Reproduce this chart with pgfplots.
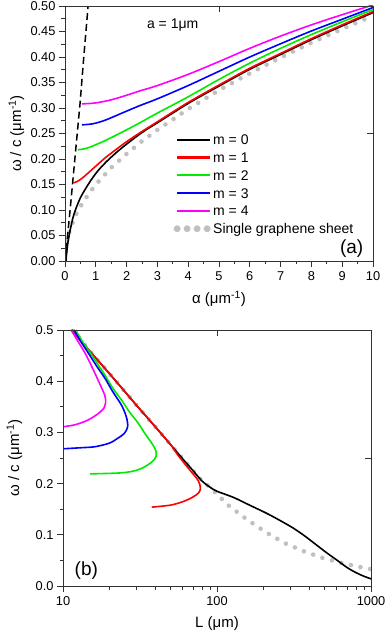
\documentclass[border=0pt]{standalone}
\usepackage{fontspec}
\setmainfont{Liberation Sans}
\newfontfamily\dejavu{DejaVu Sans}
\usepackage{pgfplots}
\pgfplotsset{compat=1.18}
\definecolor{sheetgray}{RGB}{192,192,192}
\definecolor{mgreen}{RGB}{0,235,0}
\definecolor{mblue}{RGB}{0,0,255}
\definecolor{mred}{RGB}{255,0,0}
\definecolor{mmag}{RGB}{255,0,255}
\newcommand\fs{\fontsize{12.8bp}{15bp}\selectfont}
\newcommand\fl{\fontsize{14bp}{17bp}\selectfont}
\newcommand\fx{\fontsize{15bp}{18bp}\selectfont}
\newcommand\fb{\fontsize{19bp}{22bp}\selectfont}
\newcommand\sample[1]{\textcolor{#1}{\rule[4bp]{33bp}{2.1bp}}\hspace{3bp}}
\newcommand\dt{\makebox[0pt]{\raisebox{2.4bp}{\fontsize{8.8bp}{9bp}\dejavu ●}}}
\newcommand\dotsample{\textcolor{sheetgray}{\dt\hspace{10bp}\dt\hspace{10bp}\dt\hspace{10bp}\dt}\hspace{6bp}}
\pgfplotsset{
  common/.style={
    scale only axis, anchor=south west,
    axis line style={black!80, line width=0.8bp},
    every tick/.style={black!80, line width=0.8bp},
    major tick length=6bp, minor tick length=3.5bp,
    tick align=outside,
    xtick pos=left, ytick pos=left,
    /pgf/number format/assume math mode=true,
    tick label style={font=\fs},
    label style={font=\fx},
    xticklabel style={yshift=-1.5bp},
  },
  opp/.style={
    scale only axis, anchor=south west,
    axis line style={black!80, line width=0.8bp},
    every tick/.style={black!80, line width=0.8bp},
    major tick length=6bp,
    tick align=inside,
    xtick pos=right, ytick pos=right,
    xticklabels={}, yticklabels={},
    xminorticks=false, yminorticks=false,
  },
  sheet/.style={sheetgray, line width=4.6bp, line cap=round, dash pattern=on 0bp off 9.8bp},
  crv/.style={line width=1.6bp, smooth},
}
\begin{document}
\begin{tikzpicture}
% ---------------- (a) ----------------
\begin{axis}[common,
  at={(65bp,371bp)}, width=308bp, height=255bp,
  xmin=0, xmax=10, ymin=0, ymax=0.5,
  xtick={0,1,...,10}, minor x tick num=1,
  ytick={0,0.05,...,0.51}, minor y tick num=1,
  yticklabel style={/pgf/number format/.cd, fixed, fixed zerofill, precision=2},
  xlabel={α (μm\textsuperscript{-1})},
  ylabel={ω / c (μm\textsuperscript{-1})},
  xlabel style={at={([yshift=-43bp]rel axis cs:0.5,0)}, anchor=base},
  ylabel style={at={([xshift=-44bp]rel axis cs:0,0.5)}, anchor=base},
  legend style={draw=none, fill=none, at={(axis cs:3.636,0.248)}, anchor=north west,
    inner sep=0pt, font=\fl, row sep=4.8bp,
    nodes={inner sep=0pt, text height=10bp, text depth=3bp},
    /tikz/every odd column/.append style={column sep=0bp}},
  legend cell align=left,
]
\addplot[sheet, forget plot] coordinates {(0,0) (0.03,0.028) (0.1,0.05) (0.2,0.068) (0.35,0.09) (0.5,0.107) (0.75,0.13) (1,0.15) (1.5,0.183) (2,0.21) (2.5,0.235) (3,0.257) (4,0.298) (5,0.335) (6,0.368) (7,0.399) (8,0.428) (9,0.455) (10,0.481)};
\addplot[black, line width=1.5bp, dash pattern=on 7bp off 4bp, forget plot] coordinates {(0,0) (0.15,0.09) (0.32,0.2) (0.49,0.31) (0.61,0.4) (0.75,0.5)};
\addplot[crv, black, forget plot] coordinates {(0.03,0) (0.08,0.03) (0.15,0.055) (0.25,0.083) (0.35,0.102) (0.5,0.124) (0.65,0.14) (0.85,0.159) (1.07,0.177) (1.4,0.198) (1.85,0.222) (2.5,0.252) (3,0.271) (4,0.309) (5,0.343) (6,0.376) (7,0.405) (8,0.434) (9,0.461) (10,0.487)};
\addplot[crv, mred, forget plot] coordinates {(0.27,0.153) (0.4,0.156) (0.55,0.162) (0.76,0.173) (1,0.186) (1.3,0.202) (1.6,0.216) (2,0.234) (2.5,0.254) (3,0.273) (4,0.311) (5,0.345) (6,0.378) (7,0.407) (8,0.436) (9,0.463) (10,0.489)};
\addplot[crv, mgreen, forget plot] coordinates {(0.42,0.218) (0.7,0.221) (1,0.228) (1.3,0.236) (1.8,0.251) (2.4,0.27) (3,0.29) (4,0.322) (5,0.356) (6,0.388) (7,0.417) (8,0.444) (9,0.469) (10,0.493)};
\addplot[crv, mblue, forget plot] coordinates {(0.55,0.267) (0.9,0.269) (1.3,0.276) (1.85,0.29) (2.4,0.304) (3,0.318) (4,0.344) (5,0.372) (6,0.4) (7,0.426) (8,0.451) (9,0.474) (10,0.497)};
\addplot[crv, mmag, forget plot] coordinates {(0.55,0.308) (1,0.31) (1.5,0.316) (2,0.325) (2.4,0.333) (3,0.344) (4,0.366) (5,0.391) (6,0.417) (7,0.441) (8,0.463) (9,0.483) (10,0.502)};
\addlegendimage{empty legend}
\addlegendentry{\sample{black}m = 0}
\addlegendimage{empty legend}
\addlegendentry{\sample{mred}m = 1}
\addlegendimage{empty legend}
\addlegendentry{\sample{mgreen}m = 2}
\addlegendimage{empty legend}
\addlegendentry{\sample{mblue}m = 3}
\addlegendimage{empty legend}
\addlegendentry{\sample{mmag}m = 4}
\addlegendimage{empty legend}
\addlegendentry{\dotsample Single graphene sheet}
\node[font=\fl, anchor=base west] at (axis cs:2.55,0.455) {a = 1μm};
\node[font=\fb, anchor=base east] at (axis cs:9.8,0.014) {(a)};
\end{axis}
\begin{axis}[opp, at={(65bp,371bp)}, width=308bp, height=255bp,
  xmin=0, xmax=10, ymin=0, ymax=0.5, xtick={5}, ytick={0.25}]
\end{axis}
% ---------------- (b) ----------------
\begin{axis}[common,
  at={(63bp,46bp)}, width=308bp, height=256bp,
  xmode=log, xmin=10, xmax=1000, ymin=0, ymax=0.5,
  xtick={10,100,1000}, xticklabels={10,100,1000},
  ytick={0,0.1,...,0.51}, minor y tick num=1,
  yticklabel style={/pgf/number format/.cd, fixed, fixed zerofill, precision=1},
  xlabel={L (μm)},
  ylabel={ω / c (μm\textsuperscript{-1})},
  xlabel style={at={([yshift=-41bp]rel axis cs:0.5,0)}, anchor=base},
  ylabel style={at={([xshift=-44bp]rel axis cs:0,0.5)}, anchor=base},
]
\addplot[sheet] coordinates {(11.6,0.5) (15,0.458) (20,0.415) (25,0.381) (30,0.353) (40,0.31) (50,0.276) (60,0.248) (70,0.225) (80,0.205) (90,0.193) (118,0.158) (158,0.129) (210,0.104) (279,0.083) (372,0.067) (495,0.054) (661,0.044) (884,0.036) (1000,0.033)};
\addplot[crv, black] coordinates {(11.4,0.5) (15,0.458) (20,0.415) (25,0.381) (30,0.353) (40,0.31) (50,0.276) (60,0.248) (70,0.225) (80,0.205) (90,0.193) (100,0.185) (128,0.173) (160,0.159) (210,0.142) (260,0.127) (313,0.113) (370,0.098) (443,0.080) (520,0.064) (598,0.051) (700,0.036) (800,0.026) (900,0.019) (1000,0.014)};
\addplot[crv, mred] coordinates {(37.7,0.154) (50,0.158) (60.4,0.165) (70,0.174) (76,0.182) (78,0.19) (77,0.2) (74,0.21) (68.5,0.222) (62,0.238) (55,0.258) (50,0.276) (40,0.31) (30,0.353) (20,0.415) (15,0.458) (11.4,0.5)};
\addplot[crv, mgreen] coordinates {(15,0.219) (24,0.221) (30,0.226) (34,0.233) (38,0.243) (40.2,0.253) (40,0.265) (37.7,0.279) (34,0.298) (30.8,0.318) (27,0.34) (24,0.363) (21,0.387) (18.7,0.412) (16.5,0.437) (14.6,0.461) (13.2,0.48) (12.1,0.5)};
\addplot[crv, mblue] coordinates {(10,0.268) (13,0.27) (16.1,0.272) (20,0.279) (22.8,0.289) (25,0.298) (26.3,0.311) (25.8,0.33) (24,0.353) (21,0.38) (18.7,0.406) (16.5,0.43) (14.6,0.455) (13,0.478) (11.8,0.5)};
\addplot[crv, mmag] coordinates {(10,0.311) (12,0.315) (14.5,0.324) (17,0.337) (18.5,0.348) (18.9,0.357) (18.7,0.372) (16.9,0.402) (15.3,0.43) (13.9,0.455) (12.5,0.478) (11.3,0.5)};
\node[font=\fb, anchor=base west] at (axis cs:11.3,0.021) {(b)};
\end{axis}
\begin{axis}[opp, at={(63bp,46bp)}, width=308bp, height=256bp,
  xmode=log, xmin=10, xmax=1000, ymin=0, ymax=0.5, xtick={100}, ytick={0.25}]
\end{axis}
\pgfresetboundingbox
\path[use as bounding box] (0,0) rectangle (385bp,632bp);
\end{tikzpicture}
\end{document}
